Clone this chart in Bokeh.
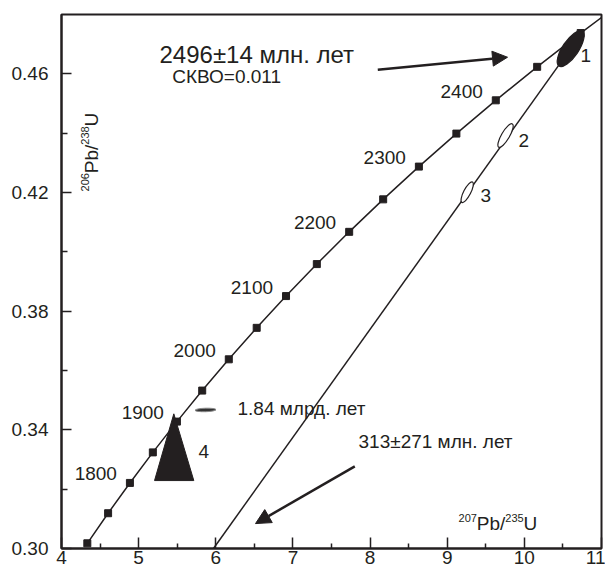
import math
from bokeh.plotting import figure
from bokeh.models import (Range1d, FixedTicker, PrintfTickFormatter, ColumnDataSource,
                          Arrow, NormalHead)
from bokeh.core.properties import value, field
from bokeh.embed import file_html
from bokeh.resources import INLINE

# ---------------- data ----------------
# Concordia (age, Ma; 207Pb/235U; 206Pb/238U), squares every 50 Ma
conc_age = [1700, 1750, 1800, 1850, 1900, 1950, 2000, 2050, 2100, 2150,
            2200, 2250, 2300, 2350, 2400, 2450, 2500, 2550]
conc_pb207_u235 = [4.3348, 4.6041, 4.8869, 5.1840, 5.4962, 5.8240, 6.1685, 6.5304, 6.9105, 7.3097,
                   7.7292, 8.1698, 8.6327, 9.1189, 9.6296, 10.1661, 10.7298, 11.3219]
conc_pb206_u238 = [0.30175, 0.31189, 0.32210, 0.33240, 0.34277, 0.35323, 0.36377, 0.37438, 0.38509, 0.39587,
                   0.40674, 0.41769, 0.42873, 0.43986, 0.45107, 0.46236, 0.47375, 0.48523]
label_ages = [1800, 1900, 2000, 2100, 2200, 2300, 2400]

# analyses 1-3 (error ellipses)
sample_ids = ["1", "2", "3"]
sample_pb207_u235 = [10.60, 9.756, 9.259]
sample_pb206_u238 = [0.4685, 0.4392, 0.4201]

# discordia (from the bottom of the chart to analysis 1)
disc_pb207_u235 = [5.97, 10.60]
disc_pb206_u238 = [0.30, 0.4685]

# analysis 4 (wide error shape)
s4_pb207_u235 = [5.206, 5.456, 5.715]
s4_pb206_u238 = [0.3229, 0.3454, 0.3229]

# small ellipse at 1.84 Ga
young_pb207_u235 = [5.867]
young_pb206_u238 = [0.3467]

x_ticks = [4, 5, 6, 7, 8, 9, 10, 11]
x_minor = [4.5, 5.5, 6.5, 7.5, 8.5, 9.5, 10.5]
y_ticks = [0.30, 0.34, 0.38, 0.42, 0.46]
y_minor = [0.32, 0.36, 0.40, 0.44]

# ---------------- style ----------------
FONT = value("Liberation Sans")
INK = "#231f20"

p = figure(width=605, height=571, x_range=Range1d(4, 11), y_range=Range1d(0.30, 0.48),
           output_backend="svg", toolbar_location=None,
           min_border_left=61, min_border_right=4, min_border_top=14, min_border_bottom=23)
p.grid.visible = False
p.outline_line_color = INK
p.outline_line_width = 2
p.background_fill_color = "white"
p.border_fill_color = "white"

for ax in (p.xaxis[0], p.yaxis[0]):
    ax.axis_line_color = INK
    ax.axis_line_width = 2
    ax.major_tick_line_color = INK
    ax.minor_tick_line_color = INK
    ax.major_tick_line_width = 1.5
    ax.minor_tick_line_width = 1.5
    ax.major_tick_out = 0
    ax.minor_tick_out = 0
    ax.major_label_text_font_size = "19px"
    ax.major_label_text_font = "Liberation Sans"
    ax.major_label_text_color = INK

xa = p.xaxis[0]
xa.ticker = FixedTicker(ticks=x_ticks, minor_ticks=x_minor)
xa.major_tick_in = 11
xa.minor_tick_in = 5
xa.major_label_standoff = 2

ya = p.yaxis[0]
ya.ticker = FixedTicker(ticks=y_ticks, minor_ticks=y_minor)
ya.formatter = PrintfTickFormatter(format="%.2f")
ya.major_tick_in = 10
ya.minor_tick_in = 6
ya.major_label_standoff = 13

# discordia
p.line(disc_pb207_u235, disc_pb206_u238, line_width=1.5, color=INK)

# concordia
p.line(conc_pb207_u235, conc_pb206_u238, line_width=1.5, color=INK)
p.scatter(conc_pb207_u235, conc_pb206_u238, marker="square", size=7, color=INK)

idx = [conc_age.index(a) for a in label_ages]
p.text(x=[conc_pb207_u235[i] for i in idx], y=[conc_pb206_u238[i] for i in idx],
       text=[str(a) for a in label_ages], text_align="right", text_baseline="alphabetic",
       x_offset=-13, y_offset=-9, text_font=FONT, text_font_size="19px", text_color=INK)

# error ellipses
p.ellipse(x=sample_pb207_u235, y=sample_pb206_u238, width=[42, 27, 23], height=[16, 8, 7],
          angle=[0.98, 1.04, 1.09], width_units="screen", height_units="screen",
          fill_color=[INK, "white", "white"], line_color=INK, line_width=1.2)
p.patch(s4_pb207_u235, s4_pb206_u238, fill_color=INK, line_color=INK, line_width=1)
p.ellipse(x=young_pb207_u235, y=young_pb206_u238, width=21, height=3.5, angle=0.03,
          width_units="screen", height_units="screen", fill_color="#333333",
          line_color="#8a8a8a", line_width=1)

# sample numbers
p.text(x=[10.728, 9.924, 9.432, 5.776], y=[0.4638, 0.4352, 0.4166, 0.3303],
       text=["1", "2", "3", "4"], text_align="left", text_baseline="alphabetic",
       y_offset=-7, text_font=FONT, text_font_size="19px", text_color=INK)

# age annotations
p.text(x=[5.2704], y=[0.46338], text=["2496±14 млн. лет"], text_align="left",
       text_baseline="alphabetic", y_offset=-9, text_font=FONT, text_font_size="24px",
       text_color=INK)
p.text(x=[5.4351, 6.2816, 7.850], y=[0.45664, 0.34483, 0.33371],
       text=["СКВО=0.011", "1.84 млрд. лет", "313±271 млн. лет"], text_align="left",
       text_baseline="alphabetic", y_offset=-7, text_font=FONT, text_font_size="19px",
       text_color=INK)

# arrows
for (x0, y0, x1, y1) in [(8.100, 0.4614, 9.782, 0.4656), (7.802, 0.3277, 6.515, 0.3084)]:
    p.add_layout(Arrow(end=NormalHead(size=15, fill_color=INK, line_color=INK, line_width=1),
                       x_start=x0, y_start=y0, x_end=x1, y_end=y1,
                       line_color=INK, line_width=2.5))

# axis titles drawn inside the frame
xt = ColumnDataSource(dict(x=[9.1465, 9.3837, 9.7532, 9.9904],
                           y=[0.30910, 0.30607, 0.30910, 0.30607],
                           text=["207", "Pb/", "235", "U"],
                           fs=["11px", "19px", "11px", "19px"],
                           dy=[-4, -7, -4, -7]))
p.text(x="x", y="y", text="text", source=xt, text_font_size=field("fs"), y_offset=field("dy"),
       text_align="left", text_baseline="alphabetic", text_font=FONT, text_color=INK)
yt = ColumnDataSource(dict(x=[4.311, 4.389, 4.311, 4.389],
                           y=[0.42034, 0.42650, 0.43611, 0.44228],
                           text=["206", "Pb/", "238", "U"],
                           fs=["11px", "19px", "11px", "19px"]))
p.text(x="x", y="y", text="text", source=yt, text_font_size=field("fs"), text_align="left",
       text_baseline="alphabetic", angle=math.pi / 2, text_font=FONT, text_color=INK)

open("out.html", "w").write(file_html(p, INLINE))
